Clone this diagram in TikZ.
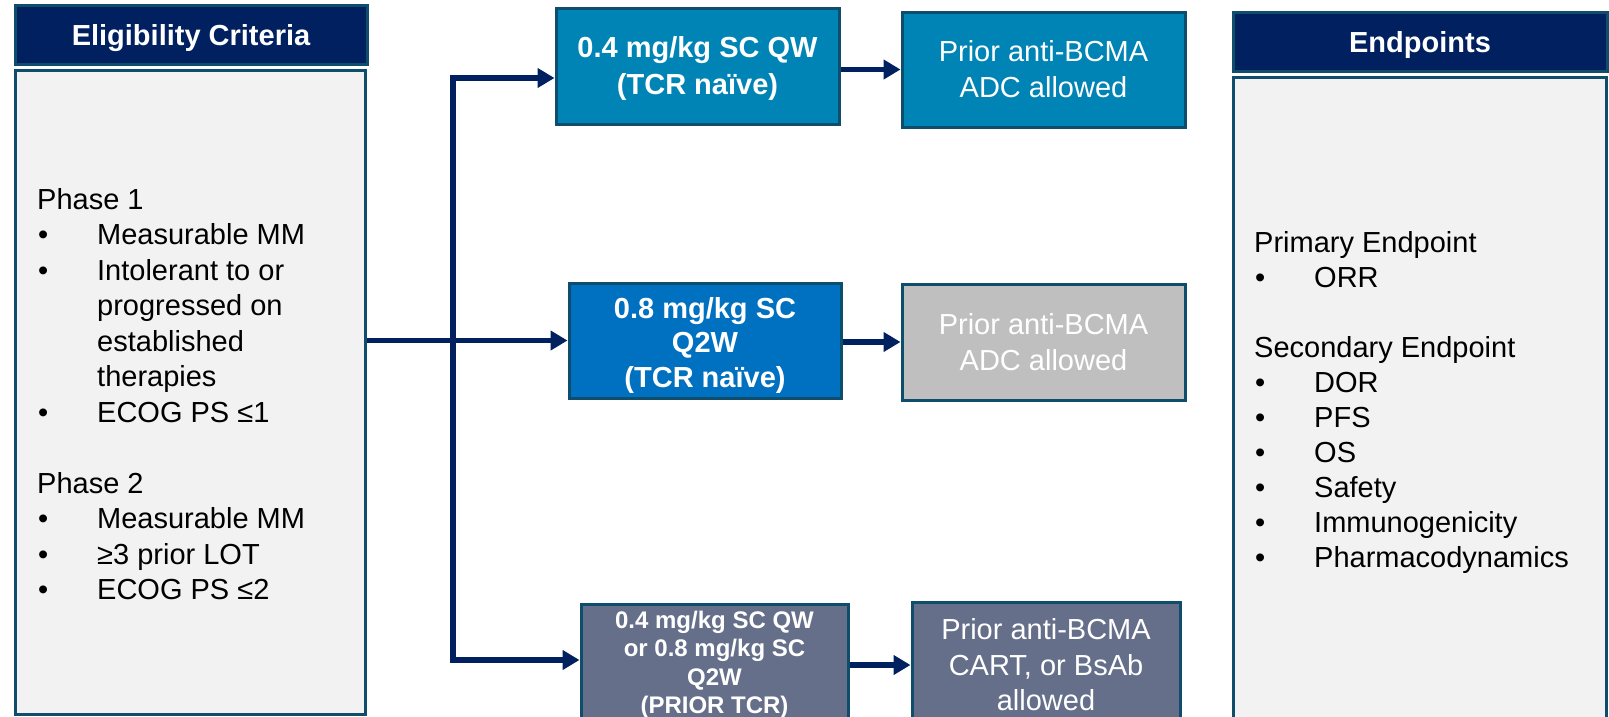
\documentclass[tikz,border=0pt]{standalone}
\usepackage{fontspec}
\setmainfont{Liberation Sans}
\usetikzlibrary{arrows.meta}
\definecolor{navy}{HTML}{002060}
\definecolor{bordc}{HTML}{0E4D6B}
\definecolor{bodyf}{HTML}{F2F2F2}
\definecolor{tealf}{HTML}{0084B6}
\definecolor{bluef}{HTML}{0070C0}
\definecolor{grayf}{HTML}{BFBFBF}
\definecolor{slatef}{HTML}{656F8A}
\tikzset{
  hdr/.style={draw=bordc, line width=3pt, fill=navy, text=white, inner sep=0pt,
    text height=21pt, text depth=0pt,
    font=\bfseries\fontsize{29}{34}\selectfont},
  panel/.style={draw=bordc, line width=3pt, fill=bodyf, inner sep=0pt},
  armbox/.style={draw=bordc, line width=3pt, inner sep=0pt, text=white, align=center},
  listtext/.style={inner sep=0pt, align=left, anchor=north west, text=black,
    font=\fontsize{29}{35}\selectfont},
  conn/.style={draw=navy, line width=5.5pt, line join=miter},
  arr/.style={conn, -{Triangle[length=17pt,width=19pt]}}
}
\newcommand{\bul}{\makebox[60pt][l]{\hspace{1pt}•}}
\begin{document}
\begin{tikzpicture}[x=1pt,y=-1pt]
\clip (0,0) rectangle (1609,716);
\fill[white] (0,0) rectangle (1609,716);

% left column
\node[hdr, minimum width=352pt, minimum height=59pt] (elighdr) at (191,34.5) {Eligibility Criteria};
\node[panel, minimum width=350pt, minimum height=644pt] (eligbody) at (190,392) {};
\node[listtext, font=\fontsize{29}{35.5}\selectfont] (eligtext) at (37,188) {Phase 1\\
\bul Measurable MM\\
\bul Intolerant to or\\
\makebox[60pt]{}progressed on\\
\makebox[60pt]{}established\\
\makebox[60pt]{}therapies\\
\bul ECOG PS ≤1\\
\mbox{}\\
Phase 2\\
\bul Measurable MM\\
\bul ≥3 prior LOT\\
\bul ECOG PS ≤2};

% right column
\node[hdr, minimum width=374pt, minimum height=59pt] (endhdr) at (1420,41.5) {Endpoints};
\node[panel, minimum width=373pt, minimum height=663pt] (endbody) at (1419.5,408.5) {};
\node[listtext] (endtext) at (1254,231.5) {Primary Endpoint\\
\bul ORR\\
\mbox{}\\
Secondary Endpoint\\
\bul DOR\\
\bul PFS\\
\bul OS\\
\bul Safety\\
\bul Immunogenicity\\
\bul Pharmacodynamics};

% arms
\node[armbox, fill=tealf, minimum width=283pt, minimum height=116pt,
  font=\bfseries\fontsize{29}{37}\selectfont] (b1) at (697.5,66) {\rule{0pt}{27pt}0.4 mg/kg SC QW\\(TCR naïve)};
\node[armbox, fill=tealf, minimum width=283pt, minimum height=115pt,
  font=\fontsize{29}{36}\selectfont] (b1b) at (1043.5,69.5) {Prior anti-BCMA\\ADC allowed};
\node[armbox, fill=bluef, minimum width=272pt, minimum height=115pt,
  font=\bfseries\fontsize{29}{34.5}\selectfont] (b2) at (705,340.5) {\rule{0pt}{30pt}0.8 mg/kg SC\\Q2W\\(TCR naïve)};
\node[armbox, fill=grayf, minimum width=283pt, minimum height=116pt,
  font=\fontsize{29}{36}\selectfont] (b2b) at (1043.5,342) {Prior anti-BCMA\\ADC allowed};
\node[armbox, fill=slatef, minimum width=267pt, minimum height=122pt,
  font=\bfseries\fontsize{24}{28.5}\selectfont] (b3) at (714.5,665) {0.4 mg/kg SC QW\\or 0.8 mg/kg SC\\Q2W\\(PRIOR TCR)};
\node[armbox, fill=slatef, minimum width=268pt, minimum height=126pt,
  font=\fontsize{29}{35.5}\selectfont] (b3b) at (1046,665) {Prior anti-BCMA\\CART, or BsAb\\allowed};

% connectors
\coordinate (jt) at (453,78);
\coordinate (jb) at (453,660);
\draw[arr] (eligbody.east |- b2.west) -- (b2.west);
\draw[arr] (jb) -- (jt) -- (jt -| b1.west);
\draw[arr] (jt) -- (jb) -- (jb -| b3.west);
\draw[arr] (b1.east |- b1b.west) -- (b1b.west);
\draw[arr] (b2.east |- b2b.west) -- (b2b.west);
\draw[arr] (b3.east |- b3b.west) -- (b3b.west);
\end{tikzpicture}
\end{document}
